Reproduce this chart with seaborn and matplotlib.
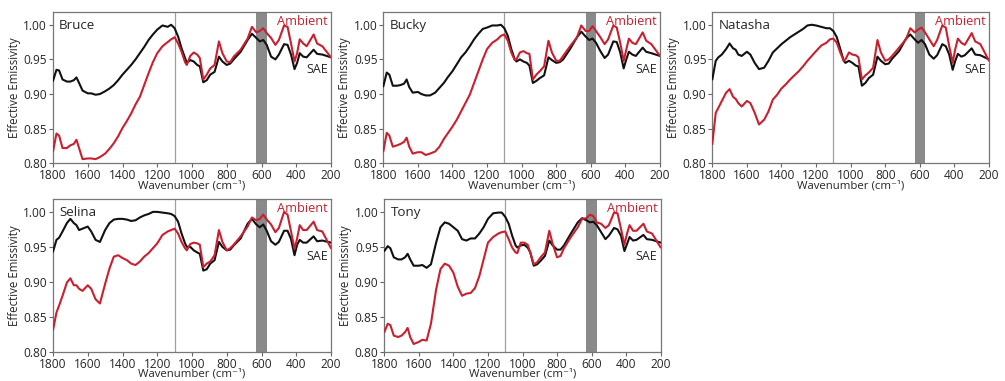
import numpy as np
import pandas as pd
import matplotlib
matplotlib.use("Agg")
import matplotlib.pyplot as plt
import seaborn as sns

# Shared wavenumber grid (cm^-1) for every spectrum
wavenumber = [1800, 1780, 1765, 1745, 1720, 1700, 1680, 1665, 1650, 1630,
              1600, 1580, 1555, 1530, 1500, 1475, 1450, 1425, 1400, 1375,
              1350, 1325, 1300, 1275, 1250, 1225, 1200, 1170, 1140, 1120,
              1100, 1080, 1060, 1040, 1030, 1010, 990, 970, 955, 935,
              915, 895, 870, 845, 825, 800, 780, 760, 720, 680,
              655, 630, 610, 590, 570, 545, 520, 500, 470, 450,
              430, 410, 395, 380, 360, 340, 300, 280, 250, 200]

bruce_sae = [.919, .935, .934, .921, .918, .918, .920, .924, .916, .905,
             .901, .901, .899, .900, .904, .908, .913, .920, .928, .935,
             .942, .950, .959, .968, .978, .986, .993, .999, .997, 1.000,
             .995, .983, .966, .952, .945, .949, .947, .942, .940, .917,
             .920, .928, .932, .954, .947, .942, .944, .950, .961, .978,
             .987, .981, .976, .978, .971, .954, .950, .957, .972, .971,
             .957, .936, .945, .959, .954, .953, .964, .958, .957, .953]
bruce_amb = [.817, .843, .840, .822, .822, .826, .828, .834, .822, .806,
             .807, .807, .806, .809, .814, .821, .829, .839, .851, .861,
             .872, .885, .896, .913, .930, .946, .959, .969, .975, .979,
             .982, .973, .961, .946, .942, .955, .960, .957, .952, .921,
             .928, .937, .942, .976, .959, .947, .946, .954, .964, .980,
             .997, .989, .991, .995, .988, .981, .971, .978, .999, .997,
             .973, .947, .959, .979, .973, .969, .986, .973, .969, .953]

bucky_sae = [.911, .931, .928, .912, .912, .913, .915, .921, .910, .902,
             .903, .900, .898, .898, .902, .909, .916, .925, .933, .943,
             .953, .960, .969, .979, .987, .994, .996, .999, .999, 1.000,
             .995, .984, .965, .950, .947, .950, .947, .945, .941, .916,
             .919, .923, .927, .953, .949, .945, .946, .950, .965, .982,
             .990, .983, .978, .980, .974, .962, .952, .957, .976, .975,
             .960, .937, .950, .961, .957, .955, .967, .961, .959, .955]
bucky_amb = [.817, .844, .840, .824, .826, .828, .831, .837, .824, .814,
             .816, .816, .812, .814, .817, .824, .835, .844, .853, .863,
             .875, .887, .899, .916, .933, .950, .965, .974, .979, .984,
             .986, .977, .960, .949, .950, .960, .962, .959, .958, .921,
             .928, .933, .940, .977, .960, .948, .948, .955, .969, .982,
             .999, .991, .991, .998, .991, .982, .972, .979, .999, .996,
             .974, .948, .964, .980, .974, .972, .989, .977, .972, .955]

natasha_sae = [.921, .948, .953, .957, .965, .973, .966, .964, .957, .955,
               .961, .957, .945, .936, .938, .948, .960, .966, .972, .977,
               .982, .986, .990, .994, .999, 1.000, .999, .997, .995, .995,
               .991, .982, .965, .948, .945, .948, .945, .941, .940, .912,
               .916, .923, .928, .954, .948, .943, .944, .951, .962, .980,
               .986, .979, .974, .978, .972, .957, .951, .956, .972, .969,
               .957, .935, .948, .958, .954, .956, .966, .957, .956, .950]
natasha_amb = [.828, .873, .880, .890, .902, .907, .896, .893, .887, .882,
               .890, .887, .873, .856, .863, .875, .892, .899, .908, .914,
               .921, .927, .933, .940, .948, .955, .962, .970, .974, .979,
               .980, .974, .960, .948, .950, .960, .957, .956, .953, .921,
               .927, .931, .938, .978, .960, .948, .950, .955, .967, .979,
               .995, .989, .993, .996, .989, .979, .969, .978, .999, .996,
               .969, .945, .965, .980, .974, .971, .988, .976, .972, .948]

selina_sae = [.943, .960, .963, .972, .984, .990, .984, .981, .974, .976,
              .979, .972, .960, .957, .974, .984, .989, .990, .990, .989,
              .987, .988, .992, .995, .997, 1.000, 1.000, .999, .998, .997,
              .994, .986, .969, .955, .950, .950, .945, .942, .940, .916,
              .918, .926, .931, .957, .950, .945, .946, .952, .962, .983,
              .990, .982, .978, .982, .973, .958, .953, .957, .973, .973,
              .961, .938, .953, .960, .956, .956, .965, .958, .959, .956]
selina_amb = [.831, .856, .866, .880, .899, .905, .895, .895, .890, .887,
              .895, .890, .875, .869, .897, .919, .936, .938, .934, .931,
              .926, .924, .929, .936, .941, .948, .955, .967, .972, .974,
              .976, .969, .957, .948, .945, .954, .956, .955, .953, .921,
              .926, .929, .938, .974, .957, .945, .948, .953, .965, .979,
              .992, .988, .990, .996, .989, .982, .971, .977, 1.000, .996,
              .972, .947, .962, .981, .974, .974, .986, .974, .972, .948]

tony_sae = [.944, .951, .948, .935, .932, .932, .935, .940, .932, .923,
            .923, .924, .920, .925, .956, .978, .985, .983, .978, .973,
            .961, .959, .962, .962, .969, .978, .990, .998, .999, .999,
            .993, .983, .966, .952, .949, .952, .953, .949, .942, .923,
            .925, .930, .937, .959, .952, .946, .946, .952, .969, .985,
            .991, .988, .985, .986, .981, .971, .961, .966, .977, .975,
            .966, .944, .954, .964, .959, .960, .967, .961, .960, .956]
tony_amb = [.828, .840, .838, .823, .821, .823, .828, .834, .821, .811,
            .814, .817, .816, .840, .889, .918, .926, .923, .913, .893,
            .880, .883, .884, .891, .908, .932, .956, .964, .969, .971,
            .972, .961, .949, .942, .941, .956, .956, .953, .942, .925,
            .928, .935, .942, .973, .954, .935, .937, .948, .964, .978,
            .990, .991, .996, .994, .985, .983, .977, .981, .999, .998,
            .976, .953, .969, .981, .973, .973, .983, .972, .969, .949]

samples = ["Bruce", "Bucky", "Natasha", "Selina", "Tony"]
sae_series = [bruce_sae, bucky_sae, natasha_sae, selina_sae, tony_sae]
amb_series = [bruce_amb, bucky_amb, natasha_amb, selina_amb, tony_amb]

x_ticks = [1800, 1600, 1400, 1200, 1000, 800, 600, 400, 200]
y_ticks = [0.80, 0.85, 0.90, 0.95, 1.00]
band_lo, band_hi = 570, 630
split_line = 1100

RED = "#c8202f"
BLACK = "#111111"
TEXT = "#262626"

sns.set_theme(style="white")
plt.rcParams["font.family"] = ["Open Sans", "DejaVu Sans"]

W, H = 1005, 381
fig = plt.figure(figsize=(W / 100, H / 100), dpi=100)

# Axes boxes in pixels: (left, top, right, bottom)
boxes = [(53, 12.3, 331, 163.3),
         (383.3, 12.3, 660, 163.3),
         (712.3, 12.3, 989, 163.3),
         (53, 199.3, 331, 351.7),
         (384.3, 199.3, 660.7, 351.7)]

for name, sae, amb, (l, t, r, b) in zip(samples, sae_series, amb_series, boxes):
    ax = fig.add_axes([l / W, 1 - b / H, (r - l) / W, (b - t) / H])
    df = pd.DataFrame({"wn": wavenumber * 2,
                       "emis": list(amb) + list(sae),
                       "cond": ["Ambient"] * len(wavenumber) + ["SAE"] * len(wavenumber)})
    ax.axvspan(band_lo, band_hi, color="#8a8a8a", lw=0, zorder=1)
    ax.axvline(split_line, color="#a0a0a0", lw=0.9, zorder=1)
    sns.lineplot(data=df, x="wn", y="emis", hue="cond",
                 palette={"Ambient": RED, "SAE": BLACK},
                 hue_order=["SAE", "Ambient"], sort=False,
                 lw=1.5, legend=False, ax=ax, zorder=3)
    ax.set_xlim(1800, 200)
    ax.set_ylim(0.80, 1.018)
    ax.set_xticks(x_ticks)
    ax.set_yticks(y_ticks)
    ax.set_yticklabels([f"{v:.2f}" for v in y_ticks])
    ax.tick_params(axis="both", which="major", direction="out", length=3,
                   width=0.8, color="#666666", labelsize=8.6, pad=1.2,
                   labelcolor=TEXT, bottom=True, left=True)
    for sp in ax.spines.values():
        sp.set_color("#777777")
        sp.set_linewidth(0.9)
    ax.set_xlabel("Wavenumber (cm\u207b\u00b9)", fontsize=8.2, color=TEXT, labelpad=-1.2)
    ax.set_ylabel("Effective Emissivity", fontsize=8.3, color=TEXT, labelpad=2)
    ax.text(0.022, 0.958, name, transform=ax.transAxes, ha="left", va="top",
            fontsize=9.6, color=TEXT)
    ax.text(0.988, 0.985, "Ambient", transform=ax.transAxes, ha="right", va="top",
            fontsize=9.2, color=RED)
    ax.text(0.988, 0.665, "SAE", transform=ax.transAxes, ha="right", va="top",
            fontsize=9.0, color=TEXT)

fig.savefig("out.png", dpi=100)
